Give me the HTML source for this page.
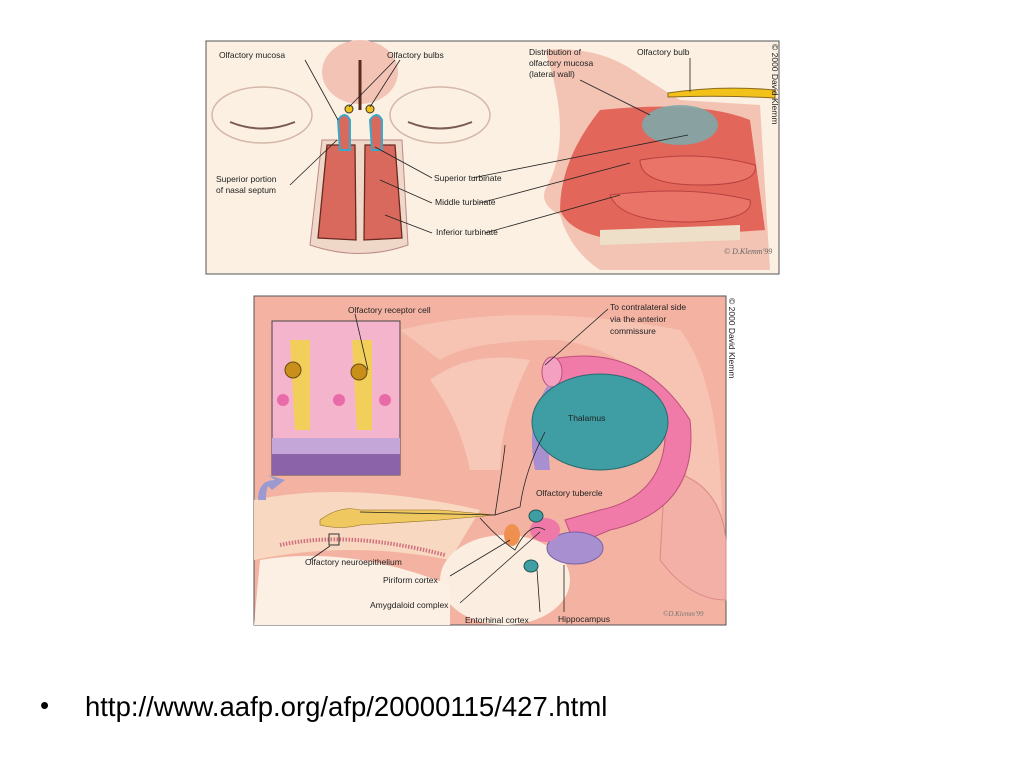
<!DOCTYPE html>
<html><head><style>
body{margin:0;width:1024px;height:768px;background:#fff;overflow:hidden;font-family:"Liberation Sans",sans-serif}
svg{position:absolute;left:0;top:0}
.l{font-family:"Liberation Sans",sans-serif;font-size:8.5px;fill:#222}
.b1{position:absolute;left:40px;top:690px;font-size:26px;color:#000}
.b2{position:absolute;left:85px;top:691px;font-size:27.5px;color:#000;white-space:nowrap}
</style></head><body>
<svg width="1024" height="768" viewBox="0 0 1024 768">
<rect x="206" y="41" width="573" height="233" fill="#fbf0e2" stroke="#555" stroke-width="1"/>
<ellipse cx="360" cy="72" rx="38" ry="32" fill="#f3c4b6"/>
<ellipse cx="262" cy="115" rx="50" ry="28" fill="none" stroke="#d4b8aa" stroke-width="1.5"/>
<path d="M230 122 Q262 135 295 122" stroke="#7a5a50" stroke-width="2" fill="none"/>
<ellipse cx="440" cy="115" rx="50" ry="28" fill="none" stroke="#d4b8aa" stroke-width="1.5"/>
<path d="M408 122 Q440 135 472 122" stroke="#7a5a50" stroke-width="2" fill="none"/>
<path d="M322 140 L402 140 L408 245 Q360 262 310 245 Z" fill="#f0d8c8" stroke="#b88" stroke-width="1"/>
<path d="M327 145 L355 145 L356 240 L318 238 Z" fill="#d9685d" stroke="#6a2a20" stroke-width="1.3"/>
<path d="M365 145 L395 145 L402 238 L364 240 Z" fill="#d9685d" stroke="#6a2a20" stroke-width="1.3"/>
<path d="M338 120 Q345 110 350 120 L350 150 L340 150 Z" fill="#d9685d" stroke="#3aa8c8" stroke-width="2"/>
<path d="M370 120 Q377 110 382 120 L382 150 L372 150 Z" fill="#d9685d" stroke="#3aa8c8" stroke-width="2"/>
<line x1="360" y1="60" x2="360" y2="110" stroke="#5a2a20" stroke-width="3"/>
<circle cx="349" cy="109" r="4" fill="#f2c21a" stroke="#333"/>
<circle cx="370" cy="109" r="4" fill="#f2c21a" stroke="#333"/>
<path d="M545 50 Q600 45 640 75 L680 100 L760 105 L770 270 L600 270 Q570 250 560 215 Q540 205 545 190 Q575 140 545 50 Z" fill="#f3c4b4"/>
<path d="M600 110 Q700 100 750 120 L765 230 L620 240 Q570 235 560 210 Q560 160 600 110 Z" fill="#e2665a"/>
<ellipse cx="680" cy="125" rx="38" ry="20" fill="#7fa7a8" opacity="0.9"/>
<path d="M640 160 Q700 150 755 165 Q760 185 700 185 Q640 185 640 160 Z" fill="#ea7468" stroke="#b84040"/>
<path d="M610 195 Q690 185 750 200 Q755 220 690 222 Q620 222 610 195 Z" fill="#ea7468" stroke="#b84040"/>
<path d="M668 93 Q720 85 775 90 L775 98 Q720 95 668 97 Z" fill="#f2c21a" stroke="#8a6a20"/>
<path d="M600 230 L740 225 L740 240 L600 245 Z" fill="#eee0c8"/>
<text class="l" x="219" y="58">Olfactory mucosa</text>
<text class="l" x="387" y="58">Olfactory bulbs</text>
<text class="l" x="216" y="182">Superior portion</text>
<text class="l" x="216" y="193">of nasal septum</text>
<text class="l" x="434" y="181">Superior turbinate</text>
<text class="l" x="435" y="205">Middle turbinate</text>
<text class="l" x="436" y="235">Inferior turbinate</text>
<text class="l" x="529" y="55">Distribution of</text>
<text class="l" x="529" y="66">olfactory mucosa</text>
<text class="l" x="529" y="77">(lateral wall)</text>
<text class="l" x="637" y="55">Olfactory bulb</text>
<text x="724" y="254" font-family="Liberation Serif" font-style="italic" font-size="8" fill="#666">© D.Klemm'99</text>
<text x="0" y="0" class="l" transform="translate(772,44) rotate(90)">© 2000 David Klemm</text>
<g stroke="#222" stroke-width="0.8" fill="none">
<line x1="305" y1="60" x2="338" y2="120"/>
<line x1="395" y1="60" x2="349" y2="107"/><line x1="400" y1="60" x2="370" y2="107"/>
<line x1="290" y1="185" x2="337" y2="140"/>
<line x1="432" y1="178" x2="375" y2="147"/><line x1="472" y1="178" x2="688" y2="135"/>
<line x1="432" y1="203" x2="380" y2="180"/><line x1="480" y1="203" x2="630" y2="163"/>
<line x1="432" y1="233" x2="385" y2="215"/><line x1="485" y1="233" x2="620" y2="195"/>
<line x1="580" y1="80" x2="650" y2="115"/>
<line x1="690" y1="58" x2="690" y2="92"/>
</g>
<rect x="254" y="296" width="472" height="329" fill="#f4b3a2" stroke="#555" stroke-width="1"/>
<path d="M400 330 Q520 300 680 330 Q720 380 722 520 L690 520 Q690 360 560 340 Q470 340 440 360 Z" fill="#f7c4b4"/>
<path d="M430 380 Q470 350 530 360 Q500 420 500 470 L470 470 Q460 420 430 380 Z" fill="#f7c7b8"/>
<path d="M254 500 Q350 480 480 510 L450 560 Q350 540 254 560 Z" fill="#f8d8c0"/>
<ellipse cx="505" cy="580" rx="65" ry="45" fill="#fbeee0"/>
<path d="M260 560 Q350 545 450 585 L450 625 L254 625 Z" fill="#fcefe4"/>
<path d="M665 470 Q720 480 726 540 L726 600 Q690 600 660 560 Z" fill="#f2b0a6" stroke="#d88" />
<rect x="272" y="321" width="128" height="154" fill="#f4b5cc" stroke="#444"/>
<rect x="272" y="453" width="128" height="22" fill="#8a63a8"/>
<rect x="272" y="438" width="128" height="16" fill="#c4a6d8"/>
<path d="M290 340 L295 430 L310 430 L310 340 Z" fill="#f2cf5a"/>
<path d="M352 340 L357 430 L372 430 L372 340 Z" fill="#f2cf5a"/>
<circle cx="293" cy="370" r="8" fill="#c8901a" stroke="#6a4a10"/>
<circle cx="359" cy="372" r="8" fill="#c8901a" stroke="#6a4a10"/>
<circle cx="283" cy="400" r="6" fill="#e86aa8"/><circle cx="339" cy="400" r="6" fill="#e86aa8"/><circle cx="385" cy="400" r="6" fill="#e86aa8"/>
<path d="M258 500 Q258 480 275 480 L268 475 L285 480 L272 490 L268 486 Q266 490 266 500 Z" fill="#9a9ad0"/>
<path d="M548 360 Q640 340 690 420 Q700 510 610 530 L575 545 L565 520 L600 510 Q670 495 665 420 Q640 370 555 385 Z" fill="#f07aa8" stroke="#c0507a"/>
<ellipse cx="552" cy="372" rx="10" ry="15" fill="#f4a0c0" stroke="#c0507a"/>
<path d="M548 385 Q525 420 535 470 L550 470 Q545 420 560 395 Z" fill="#a890d0"/>
<ellipse cx="600" cy="422" rx="68" ry="48" fill="#3e9ea4" stroke="#2a6a70"/>
<ellipse cx="575" cy="548" rx="28" ry="16" fill="#a890d0" stroke="#7a60a0"/>
<ellipse cx="545" cy="530" rx="15" ry="12" fill="#ee78a8"/>
<ellipse cx="536" cy="516" rx="7" ry="6" fill="#3e9ea4" stroke="#255"/>
<ellipse cx="531" cy="566" rx="7" ry="6" fill="#3e9ea4" stroke="#255"/>
<ellipse cx="512" cy="535" rx="8" ry="11" fill="#f09050"/>
<path d="M320 520 Q340 505 360 510 L440 510 L495 515 L440 520 L360 525 Q340 530 320 525 Z" fill="#f0c860" stroke="#8a6a20" stroke-width="0.6"/>
<path d="M280 545 Q350 530 445 555" stroke="#d07080" stroke-width="4" fill="none" stroke-dasharray="1.5 1.5"/>
<rect x="329" y="534" width="10" height="11" fill="none" stroke="#333"/>
<g stroke="#222" stroke-width="0.8" fill="none">
<path d="M360 512 L495 515 Q505 450 505 445"/><path d="M495 515 L520 507 Q525 470 545 432"/>
<path d="M480 518 Q500 540 515 550 Q530 520 545 530"/>
<line x1="545" y1="365" x2="608" y2="309"/>
<line x1="330" y1="546" x2="310" y2="560"/>
<line x1="450" y1="576" x2="510" y2="540"/>
<line x1="460" y1="603" x2="540" y2="532"/>
<line x1="537" y1="570" x2="540" y2="612"/>
<line x1="564" y1="565" x2="564" y2="612"/>
<line x1="355" y1="314" x2="368" y2="370"/>
</g>
<text class="l" x="348" y="313">Olfactory receptor cell</text>
<text class="l" x="610" y="310">To contralateral side</text>
<text class="l" x="610" y="322">via the anterior</text>
<text class="l" x="610" y="334">commissure</text>
<text class="l" x="568" y="421">Thalamus</text>
<text class="l" x="536" y="496">Olfactory tubercle</text>
<text class="l" x="305" y="565">Olfactory neuroepithelium</text>
<text class="l" x="383" y="583">Piriform cortex</text>
<text class="l" x="370" y="608">Amygdaloid complex</text>
<text class="l" x="465" y="623">Entorhinal cortex</text>
<text class="l" x="558" y="622">Hippocampus</text>
<text x="663" y="616" font-family="Liberation Serif" font-style="italic" font-size="7" fill="#777">©D.Klemm'99</text>
<text class="l" transform="translate(729,298) rotate(90)">© 2000 David Klemm</text>
</svg>
<div class="b1">•</div>
<div class="b2">http://www.aafp.org/afp/20000115/427.html</div>
</body></html>
